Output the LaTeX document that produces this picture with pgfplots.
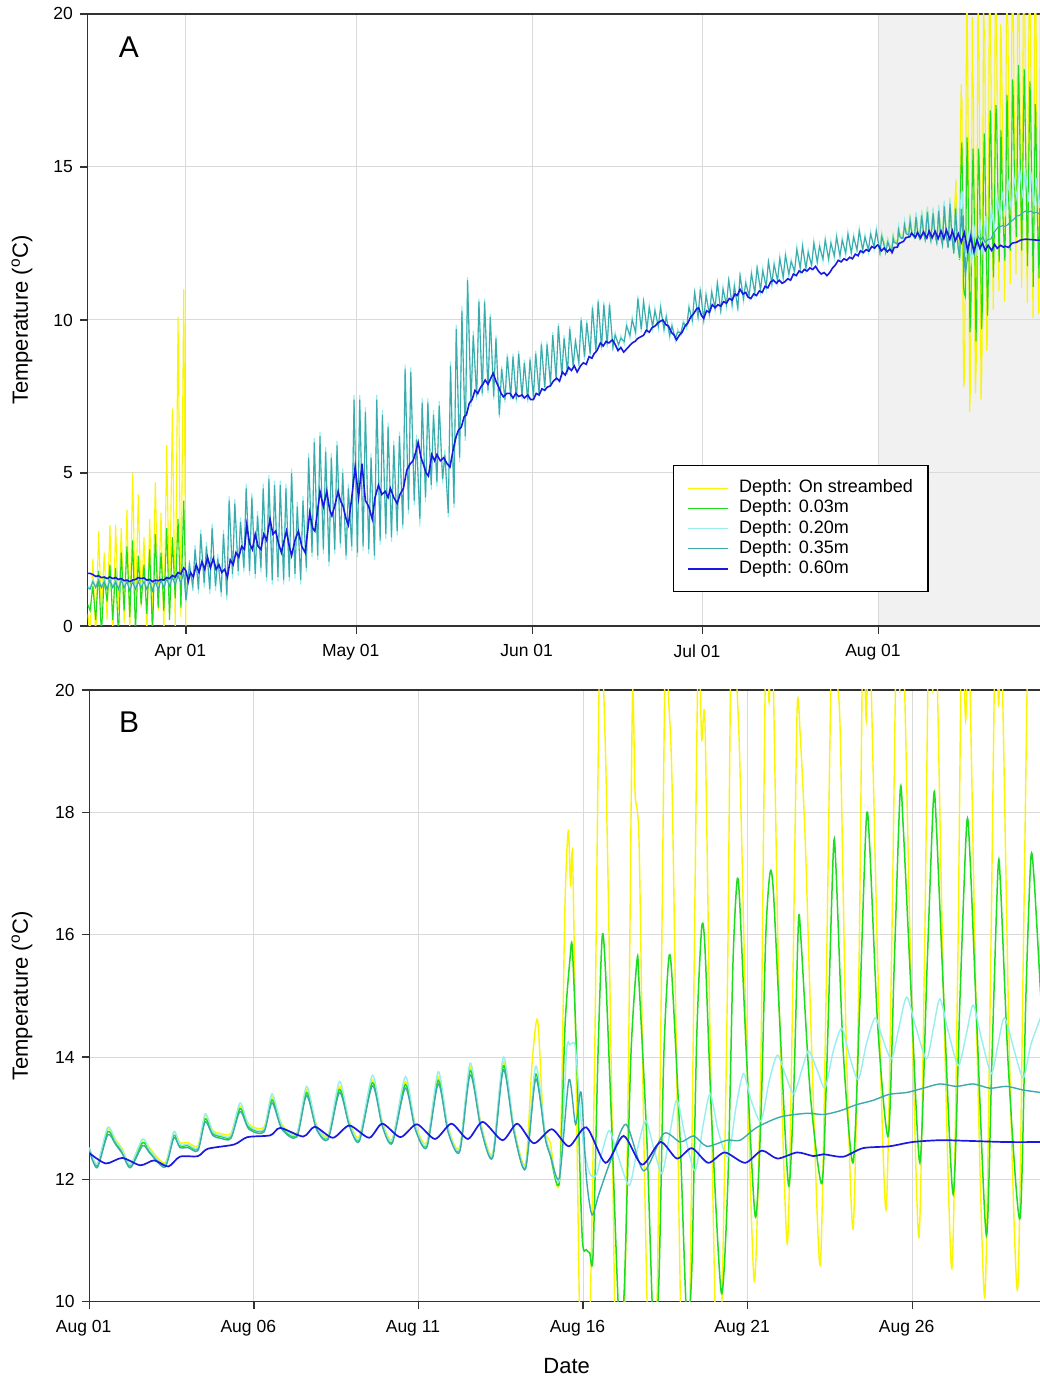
\documentclass[border=0pt]{standalone}
\usepackage{pgfplots}
\usepackage{pgfplotstable}
\pgfplotsset{compat=1.18}
\usepackage{fontspec}
\setmainfont{Liberation Sans}
\definecolor{cY}{RGB}{250,245,0}
\definecolor{cG}{RGB}{30,220,30}
\definecolor{cC}{RGB}{150,238,238}
\definecolor{cT}{RGB}{60,170,170}
\definecolor{cB}{RGB}{25,25,225}
\definecolor{shade}{RGB}{241,241,241}
\definecolor{gridc}{RGB}{218,218,218}
\definecolor{axc}{RGB}{50,50,50}

% March (panel A): day-of-year, yellow, green, cyan, teal, blue
\pgfplotstableread{
d y g c t b
73.7 0.4 0.7 1.3 1.25 1.72
74.1 -0.3 0.5 1.25 1.2 1.72
74.6 2.2 1.3 1.5 1.45 1.68
75.1 -0.5 0.2 1.3 1.25 1.62
75.6 3.1 1.8 1.55 1.5 1.64
76.1 0.4 -0.3 1.3 1.25 1.58
76.6 2.4 1.6 1.5 1.45 1.6
77.1 0.2 0.8 1.25 1.2 1.55
77.6 3.3 2.0 1.55 1.5 1.6
78.1 -0.5 0.2 1.3 1.25 1.55
78.6 3.3 1.9 1.5 1.45 1.58
79.1 0.5 -0.4 1.25 1.2 1.52
79.6 3.2 2.4 1.55 1.5 1.55
80.1 0.1 0.5 1.3 1.25 1.48
80.6 3.8 2.6 1.5 1.45 1.5
81.1 -0.2 0.3 1.2 1.15 1.45
81.6 5.0 2.8 1.5 1.45 1.5
82.1 0.3 -0.2 1.25 1.2 1.52
82.6 4.3 2.3 1.5 1.45 1.58
83.1 0.6 0.7 1.3 1.25 1.55
83.6 2.9 2.0 1.5 1.45 1.57
84.1 -0.4 0.4 1.25 1.2 1.5
84.6 3.5 2.5 1.5 1.45 1.52
85.1 0.2 -0.3 1.2 1.15 1.45
85.6 4.7 3.0 1.5 1.45 1.5
86.1 0.5 0.6 1.25 1.2 1.48
86.6 3.7 2.4 1.55 1.5 1.52
87.1 -0.3 0.5 1.3 1.25 1.5
87.6 5.9 3.2 1.6 1.55 1.58
88.1 0.4 0.2 1.35 1.3 1.55
88.6 7.1 2.9 1.65 1.6 1.65
89.1 0.0 0.9 1.4 1.35 1.6
89.6 10.1 3.5 1.7 1.65 1.75
90.1 0.3 0.6 1.45 1.4 1.7
90.6 11.0 4.1 1.8 1.75 1.9
91.0 -0.5 1.0 0.8 0.85 1.8
}\marTab

% April - July (panel A): day, teal (0.35 m), cyan (0.20 m)
\pgfplotstableread{
d t c
91.0 0.85 0.8
91.2 1.2 1.05
91.6 2.0 2.15
92.2 1.3 1.15
92.6 2.5 2.65
93.2 1.2 1.05
93.6 3.0 3.15
94.2 1.4 1.25
94.6 2.6 2.75
95.2 1.2 1.05
95.6 3.2 3.35
96.2 1.3 1.15
96.6 2.2 2.35
97.2 1.1 0.95
97.6 3.0 3.15
98.2 1.0 0.85
98.6 4.1 4.25
99.2 1.7 1.55
99.6 4.0 4.15
100.2 1.8 1.65
100.6 3.4 3.55
101.2 1.9 1.75
101.6 4.5 4.65
102.2 1.8 1.65
102.6 4.2 4.35
103.2 1.7 1.55
103.6 3.6 3.75
104.2 1.9 1.75
104.6 4.5 4.65
105.2 1.6 1.45
105.6 4.8 4.95
106.2 1.5 1.35
106.6 4.6 4.75
107.2 1.6 1.45
107.6 4.6 4.75
108.2 1.5 1.35
108.6 4.5 4.65
109.2 1.6 1.45
109.6 5.0 5.15
110.2 1.7 1.55
110.6 3.9 4.05
111.2 1.5 1.35
111.6 4.1 4.25
112.2 1.9 1.75
112.6 5.5 5.65
113.2 2.4 2.25
113.6 6.0 6.15
114.2 2.3 2.15
114.6 6.2 6.35
115.2 2.5 2.35
115.6 5.7 5.85
116.2 2.1 1.95
116.6 5.5 5.65
117.2 2.5 2.35
117.6 5.9 6.05
118.2 2.7 2.55
118.6 5.0 5.15
119.2 2.3 2.15
119.6 4.5 4.65
120.2 2.6 2.45
120.6 7.4 7.55
121.2 2.4 2.25
121.6 7.4 7.55
122.2 2.6 2.45
122.6 7.0 7.15
123.2 2.5 2.35
123.6 5.5 5.65
124.2 2.3 2.15
124.6 7.4 7.55
125.2 2.8 2.65
125.6 6.9 7.05
126.2 3.0 2.85
126.6 6.5 6.65
127.2 2.9 2.75
127.6 5.9 6.05
128.2 3.1 2.95
128.6 6.2 6.35
129.2 3.3 3.15
129.6 8.4 8.55
130.2 3.8 3.65
130.6 8.3 8.45
131.2 4.1 3.95
131.6 6.1 6.25
132.2 3.5 3.25
132.6 7.3 7.45
133.2 4.2 4.05
133.6 7.3 7.45
134.2 4.6 4.45
134.6 6.9 7.05
135.2 4.7 4.55
135.6 7.2 7.35
136.2 4.8 4.65
136.6 5.6 5.75
137.2 3.7 3.55
137.6 8.5 8.65
138.2 4.0 3.85
138.6 9.7 9.85
139.2 5.5 5.35
139.6 10.3 10.45
140.2 6.2 6.05
140.6 11.3 11.4
141.2 7.3 7.15
141.6 9.5 9.65
142.2 7.5 7.4
142.6 10.6 10.7
143.2 7.6 7.5
143.6 10.6 10.7
144.2 7.7 7.6
144.6 10.1 10.2
145.2 7.5 7.4
145.6 9.4 9.5
146.2 6.9 6.8
146.6 8.4 8.5
147.2 7.4 7.3
147.6 8.8 8.9
148.2 7.5 7.4
148.6 8.8 8.9
149.2 7.4 7.3
149.6 8.9 9.0
150.2 7.5 7.4
150.6 8.6 8.7
151.2 7.4 7.3
151.6 8.7 8.8
152.2 7.5 7.4
152.6 8.9 9.0
153.2 7.6 7.5
153.6 9.2 9.3
154.2 7.8 7.7
154.6 9.2 9.3
155.2 7.9 7.8
155.6 9.5 9.6
156.2 8.1 8.0
156.6 9.8 9.9
157.2 8.2 8.1
157.6 9.4 9.5
158.2 8.3 8.2
158.6 9.7 9.8
159.2 8.5 8.4
159.6 9.3 9.4
160.2 8.6 8.5
160.6 10.0 10.1
161.2 8.8 8.7
161.6 9.9 10.0
162.2 8.9 8.8
162.6 10.4 10.5
163.2 9.0 8.9
163.6 10.6 10.7
164.2 9.1 9.0
164.6 10.5 10.6
165.2 9.2 9.1
165.6 10.5 10.6
166.2 9.1 9.0
166.6 9.5 9.6
167.2 9.2 9.1
167.6 9.4 9.5
168.2 9.3 9.2
168.6 9.8 9.9
169.2 9.5 9.4
169.6 10.0 10.1
170.2 9.6 9.5
170.6 10.7 10.8
171.2 9.7 9.6
171.6 10.6 10.7
172.2 9.7 9.6
172.6 10.4 10.5
173.2 9.8 9.7
173.6 10.3 10.4
174.2 9.8 9.7
174.6 10.4 10.5
175.2 9.7 9.6
175.6 10.1 10.2
176.2 9.5 9.4
176.6 9.8 9.9
177.2 9.4 9.3
177.6 9.6 9.7
178.2 9.6 9.5
178.6 9.9 10.0
179.2 9.8 9.7
179.6 10.4 10.5
180.2 10.0 9.9
180.6 10.9 11.0
181.2 10.1 10.0
181.6 11.0 11.1
182.2 10.0 9.9
182.6 10.8 10.9
183.2 10.2 10.1
183.6 10.9 11.0
184.2 10.4 10.3
184.6 11.2 11.3
185.2 10.3 10.2
185.6 11.0 11.1
186.2 10.5 10.4
186.6 11.3 11.4
187.2 10.5 10.4
187.6 11.1 11.2
188.2 10.4 10.3
188.6 11.45 11.55
189.2 10.7 10.6
189.6 11.2 11.3
190.2 10.8 10.7
190.6 11.5 11.6
191.2 10.9 10.8
191.6 11.7 11.8
192.2 11.0 10.9
192.6 11.6 11.7
193.2 11.1 11.0
193.6 11.9 12.0
194.2 11.2 11.1
194.6 11.8 11.9
195.2 11.3 11.2
195.6 12.0 12.1
196.2 11.4 11.3
196.6 12.1 12.2
197.2 11.5 11.4
197.6 11.9 12.0
198.2 11.6 11.5
198.6 12.3 12.4
199.2 11.7 11.6
199.6 12.4 12.5
200.2 11.7 11.6
200.6 12.2 12.3
201.2 11.8 11.7
201.6 12.5 12.6
202.2 11.9 11.8
202.6 12.4 12.5
203.2 12.0 11.9
203.6 12.6 12.7
204.2 12.0 11.9
204.6 12.5 12.6
205.2 12.1 12.0
205.6 12.7 12.8
206.2 12.1 12.0
206.6 12.6 12.7
207.2 12.2 12.1
207.6 12.8 12.9
208.2 12.2 12.1
208.6 12.7 12.8
209.2 12.3 12.2
209.6 12.9 13.0
210.2 12.3 12.2
210.6 12.7 12.8
211.2 12.3 12.2
211.6 12.8 12.9
212.2 12.4 12.3
212.6 12.9 13.0
213.0 12.48 12.52
}\aprTab

% April - July blue (0.60 m)
\pgfplotstableread{
d b
91.0 1.8
91.4 1.45
91.8 1.75
92.3 1.6
92.8 2.0
93.3 1.75
93.8 2.1
94.3 1.85
94.8 2.25
95.3 1.9
95.8 2.2
96.3 1.85
96.8 2.0
97.3 1.75
97.8 1.85
98.3 1.6
98.8 2.16
99.3 2.0
99.8 2.4
100.3 2.25
100.8 2.6
101.3 2.5
101.7 3.3
102.2 2.7
102.7 2.5
103.2 3.0
103.7 2.6
104.2 2.5
104.7 3.0
105.2 2.8
105.8 3.5
106.3 3.0
106.8 3.1
107.3 2.7
107.8 2.4
108.3 2.8
108.7 3.1
109.2 2.6
109.6 2.3
110.2 2.8
110.8 3.1
111.4 2.6
112.0 2.4
112.8 3.7
113.3 3.2
113.7 3.1
114.2 3.8
114.6 4.4
115.2 3.9
115.8 4.4
116.3 3.8
116.7 3.6
117.3 4.0
117.8 4.4
118.2 4.1
118.7 3.9
119.2 3.5
119.6 3.3
120.2 4.2
120.8 5.2
121.4 4.2
122.0 5.3
122.6 4.1
123.2 3.9
123.8 3.5
124.3 4.2
124.9 4.6
125.5 4.3
126.1 4.4
126.6 4.2
127.0 4.5
127.6 4.2
128.2 4.0
128.7 4.3
129.3 4.5
129.9 5.1
130.5 5.3
131.0 5.4
131.5 5.7
131.9 6.0
132.4 5.5
132.8 5.3
133.3 5.0
133.7 4.9
134.3 5.6
134.8 5.4
135.2 5.6
135.8 5.4
136.4 5.5
137.0 5.3
137.5 5.2
138.1 5.8
138.6 6.2
139.0 6.4
139.5 6.5
140.0 6.84
140.4 6.9
140.9 7.28
141.4 7.4
141.9 7.7
142.4 7.6
142.9 7.8
143.3 7.9
143.7 8.04
144.2 7.9
144.7 8.1
145.1 8.26
145.6 8.0
146.1 7.8
146.5 7.6
146.9 7.49
147.5 7.6
148.1 7.6
148.6 7.45
149.1 7.6
149.6 7.5
150.2 7.55
150.6 7.45
151.2 7.55
151.7 7.4
152.2 7.4
152.7 7.6
153.2 7.55
153.7 7.75
154.2 7.7
154.6 7.8
155.2 7.85
155.7 8.0
156.3 8.1
156.8 8.0
157.3 8.3
157.8 8.2
158.4 8.45
158.9 8.35
159.4 8.5
159.9 8.3
160.5 8.5
161.0 8.6
161.5 8.55
162.0 8.8
162.5 8.75
162.9 8.9
163.4 9.0
164.0 9.25
164.5 9.15
165.0 9.3
165.5 9.25
166.1 9.35
166.6 9.2
167.1 9.0
167.6 9.1
168.1 8.95
168.6 9.05
169.1 9.15
169.6 9.25
170.1 9.3
170.6 9.4
171.1 9.45
171.6 9.5
172.1 9.67
172.6 9.6
173.1 9.75
173.6 9.8
174.1 9.9
174.5 9.95
175.0 10.0
175.5 9.85
176.0 9.8
176.5 9.6
177.0 9.5
177.4 9.35
177.9 9.5
178.4 9.6
178.9 9.8
179.4 9.9
179.9 10.1
180.4 10.2
180.9 10.35
181.3 10.4
181.8 10.15
182.2 10.05
182.7 10.3
183.2 10.25
183.7 10.5
184.2 10.4
184.7 10.5
185.2 10.45
185.7 10.6
186.2 10.55
186.7 10.7
187.2 10.65
187.7 10.85
188.1 10.8
188.6 11.0
189.1 10.85
189.6 10.9
190.0 10.75
190.5 10.7
191.0 10.85
191.5 10.8
192.0 10.95
192.5 10.9
193.0 11.1
193.5 11.05
194.0 11.25
194.5 11.3
195.0 11.2
195.5 11.3
196.0 11.2
196.5 11.25
197.0 11.35
197.5 11.3
198.0 11.5
198.5 11.45
199.0 11.6
199.5 11.55
199.9 11.65
200.4 11.6
200.9 11.7
201.4 11.65
201.9 11.75
202.4 11.6
202.9 11.5
203.4 11.55
203.9 11.45
204.4 11.55
204.9 11.7
205.4 11.8
205.9 11.95
206.4 11.9
206.9 12.0
207.4 11.95
207.9 12.05
208.4 12.0
208.9 12.15
209.4 12.1
209.8 12.26
210.3 12.2
210.8 12.3
211.3 12.25
211.8 12.4
212.3 12.35
212.8 12.45
213.0 12.43
}\blueApr

% August (both panels): yellow, on streambed
\pgfplotstableread{
d v
213.0 12.52
213.24 12.25
213.56 12.82
213.8 12.65
214.0 12.5
214.25 12.25
214.62 12.65
214.85 12.5
215.3 12.27
215.57 12.77
215.75 12.6
216.0 12.6
216.3 12.55
216.52 13.05
216.75 12.8
217.0 12.75
217.3 12.75
217.58 13.2
217.85 12.9
218.3 12.85
218.55 13.35
218.85 12.9
219.3 12.75
219.6 13.47
219.9 12.9
220.25 12.72
220.6 13.52
220.9 12.95
221.2 12.7
221.6 13.63
221.9 12.95
222.2 12.66
222.6 13.6
222.9 12.9
223.25 12.6
223.6 13.68
223.9 12.85
224.25 12.52
224.57 13.84
224.9 12.9
225.25 12.42
225.58 13.92
225.9 12.85
226.25 12.25
226.45 13.9
226.62 14.6
226.8 12.9
227.0 12.6
227.28 12.0
227.45 16.5
227.55 17.7
227.62 16.8
227.68 17.3
227.78 14.0
227.9 9.5
228.0 7.8
228.15 8.2
228.35 14.0
228.5 20.6
228.6 20.3
228.7 18.5
228.85 14.0
229.05 7.0
229.2 8.0
229.38 14.0
229.5 19.9
229.58 18.3
229.7 17.5
229.85 12.5
230.05 7.6
230.2 8.6
230.35 14.0
230.5 20.8
230.6 19.8
230.7 18.5
230.85 13.5
231.05 7.4
231.2 8.5
231.35 14.5
231.5 20.8
231.6 19.2
231.7 19.5
231.85 14.5
232.05 9.0
232.2 9.6
232.38 15.0
232.5 21.0
232.62 20.5
232.75 19.0
232.95 14.5
233.2 10.34
233.4 14.0
233.55 20.8
233.65 19.8
233.75 20.8
233.95 15.0
234.2 10.95
234.35 14.5
234.5 19.66
234.6 19.2
234.75 17.5
234.95 14.0
235.2 10.6
235.38 15.0
235.55 20.8
235.65 20.2
235.8 19.5
235.98 14.5
236.2 11.19
236.38 15.5
236.5 21.0
236.6 19.5
236.7 21.0
236.95 15.5
237.2 11.5
237.38 16.0
237.52 21.0
237.62 20.0
237.72 21.0
237.95 15.5
238.2 11.05
238.38 16.0
238.5 21.0
238.62 20.0
238.72 21.0
238.95 15.0
239.2 10.54
239.38 15.5
239.5 21.0
239.62 19.5
239.72 20.8
239.95 14.5
240.2 10.07
240.38 15.5
240.52 21.0
240.62 19.76
240.72 20.5
240.95 14.0
241.2 10.2
241.38 16.0
241.52 21.0
241.65 20.8
241.9 21.0
}\yelAug

% August green, 0.03 m
\pgfplotstableread{
d v
213.0 12.5
213.24 12.22
213.56 12.78
213.8 12.6
214.0 12.45
214.25 12.22
214.62 12.6
214.85 12.45
215.3 12.23
215.57 12.72
215.75 12.55
216.0 12.55
216.3 12.5
216.52 12.99
216.75 12.75
217.0 12.7
217.3 12.7
217.58 13.16
217.85 12.85
218.3 12.8
218.55 13.3
218.85 12.85
219.3 12.72
219.6 13.42
219.9 12.85
220.25 12.68
220.6 13.47
220.9 12.9
221.2 12.65
221.6 13.58
221.9 12.9
222.2 12.62
222.6 13.55
222.9 12.85
223.25 12.55
223.6 13.62
223.9 12.8
224.25 12.48
224.57 13.78
224.9 12.85
225.25 12.38
225.58 13.86
225.9 12.8
226.25 12.2
226.56 13.72
226.85 12.7
227.0 12.4
227.28 11.96
227.45 14.5
227.6 15.6
227.67 15.8
227.8 14.07
227.97 11.08
228.1 10.85
228.2 10.8
228.3 10.75
228.45 14.0
228.58 15.97
228.68 15.4
228.88 12.7
229.1 9.6
229.25 10.2
229.45 14.0
229.64 15.6
229.7 15.2
229.94 12.6
230.15 9.3
230.3 10.3
230.45 14.0
230.6 15.6
230.7 15.3
230.95 12.6
231.15 9.7
231.3 10.5
231.45 14.3
231.6 16.1
231.7 15.8
231.9 13.05
232.2 10.14
232.4 12.0
232.55 15.5
232.67 16.85
232.75 16.6
232.97 13.93
233.23 11.39
233.4 13.0
233.55 16.0
233.68 17.02
233.78 16.7
233.98 14.5
234.24 11.9
234.4 13.5
234.54 16.2
234.62 15.9
234.9 13.4
235.25 11.93
235.4 13.8
235.6 17.36
235.68 17.1
235.9 14.1
236.2 12.27
236.4 14.8
236.6 17.86
236.7 17.5
236.95 14.5
237.27 12.71
237.45 15.5
237.63 18.34
237.72 17.8
237.95 15.2
238.23 12.27
238.45 15.5
238.64 18.2
238.72 17.9
238.95 15.0
239.24 11.76
239.45 15.0
239.65 17.8
239.75 17.3
239.97 14.4
240.25 11.08
240.42 14.0
240.6 17.05
240.68 16.8
240.92 13.8
241.27 11.36
241.45 15.0
241.6 17.25
241.7 16.9
241.9 15.0
}\grnAug

% August cyan, 0.20 m
\pgfplotstableread{
d v
213.0 12.52
213.24 12.25
213.56 12.85
213.8 12.63
214.0 12.48
214.25 12.24
214.62 12.66
214.85 12.47
215.3 12.25
215.57 12.78
215.75 12.57
216.0 12.57
216.3 12.52
216.52 13.07
216.75 12.78
217.0 12.72
217.3 12.72
217.58 13.25
217.85 12.88
218.3 12.82
218.55 13.4
218.85 12.88
219.3 12.74
219.6 13.52
219.9 12.88
220.25 12.7
220.6 13.6
220.9 12.93
221.2 12.67
221.6 13.7
221.9 12.93
222.2 12.64
222.6 13.68
222.9 12.88
223.25 12.57
223.6 13.76
223.9 12.83
224.25 12.5
224.57 13.9
224.9 12.88
225.25 12.4
225.58 14.0
225.9 12.83
226.25 12.22
226.56 13.85
226.85 12.75
227.0 12.45
227.28 12.0
227.5 14.1
227.6 14.2
227.75 14.2
227.85 13.6
228.0 12.6
228.2 12.1
228.4 12.07
228.6 12.5
228.8 12.8
229.05 12.4
229.4 11.9
229.65 12.5
229.9 12.96
230.15 12.5
230.4 12.1
230.65 12.8
230.85 13.3
231.1 12.7
231.4 12.14
231.65 12.9
231.86 13.4
232.1 12.8
232.4 12.37
232.65 13.2
232.87 13.73
233.1 13.3
233.4 12.95
233.65 13.6
233.9 14.03
234.15 13.7
234.4 13.4
234.65 13.8
234.85 14.1
235.1 13.8
235.35 13.5
235.6 14.1
235.86 14.47
236.1 14.0
236.36 13.63
236.6 14.2
236.87 14.64
237.1 14.3
237.37 13.97
237.6 14.5
237.83 14.98
238.1 14.5
238.43 13.97
238.65 14.5
238.84 14.95
239.1 14.4
239.4 13.86
239.65 14.4
239.85 14.85
240.1 14.3
240.4 13.73
240.6 14.2
240.8 14.64
241.1 14.1
241.37 13.66
241.6 14.2
241.9 14.65
}\cyaAug

% August teal, 0.35 m
\pgfplotstableread{
d v
213.0 12.47
213.24 12.19
213.56 12.73
213.8 12.57
214.0 12.42
214.25 12.19
214.62 12.55
214.85 12.42
215.3 12.2
215.57 12.68
215.75 12.52
216.0 12.52
216.3 12.47
216.52 12.94
216.75 12.72
217.0 12.67
217.3 12.67
217.58 13.11
217.85 12.82
218.3 12.77
218.55 13.25
218.85 12.82
219.3 12.69
219.6 13.37
219.9 12.82
220.25 12.65
220.6 13.42
220.9 12.87
221.2 12.62
221.6 13.53
221.9 12.87
222.2 12.59
222.6 13.49
222.9 12.82
223.25 12.52
223.6 13.56
223.9 12.77
224.25 12.45
224.57 13.71
224.9 12.82
225.25 12.35
225.58 13.79
225.9 12.77
226.25 12.17
226.56 13.64
226.85 12.67
227.0 12.4
227.28 12.03
227.57 13.63
227.77 12.9
227.94 13.42
228.1 12.03
228.27 11.42
228.48 11.76
228.83 12.3
229.3 12.9
229.84 12.14
230.45 12.75
230.95 12.61
231.36 12.71
231.76 12.54
232.37 12.64
232.77 12.64
233.28 12.85
233.99 13.02
234.8 13.08
235.3 13.06
235.8 13.12
236.3 13.22
236.8 13.29
237.3 13.39
237.83 13.42
238.33 13.49
238.84 13.56
239.34 13.52
239.85 13.56
240.36 13.49
240.86 13.52
241.37 13.46
241.9 13.42
}\tealAug

% August blue, 0.60 m
\pgfplotstableread{
d v
213.0 12.43
213.5 12.26
214.0 12.35
214.55 12.23
214.97 12.31
215.4 12.21
215.75 12.37
216.3 12.38
216.6 12.5
217.4 12.57
217.8 12.69
218.5 12.72
218.8 12.84
219.5 12.7
219.85 12.86
220.4 12.68
220.9 12.88
221.5 12.68
221.9 12.91
222.45 12.69
222.95 12.9
223.5 12.66
224.0 12.91
224.5 12.66
224.95 12.94
225.55 12.64
226.0 12.91
226.5 12.59
227.05 12.82
227.57 12.54
228.1 12.85
228.68 12.27
229.23 12.71
229.79 12.24
230.35 12.61
230.85 12.34
231.3 12.51
231.8 12.27
232.3 12.44
232.92 12.27
233.43 12.47
233.9 12.34
234.5 12.44
235.0 12.38
235.3 12.41
235.9 12.37
236.5 12.51
237.3 12.54
238.0 12.61
238.84 12.64
239.65 12.63
240.86 12.61
241.9 12.61
}\bluAug

\pgfplotsset{
  tempaxis/.style={
    scale only axis, anchor=south west, set layers,
    axis line style={axc, line width=0.65pt},
    every tick/.style={axc, line width=0.65pt},
    tick align=outside, major tick length=3.8pt, tick pos=left,
    grid=major, major grid style={gridc, line width=0.5pt},
    ticklabel style={font=\fontsize{8.75}{10}\selectfont},
    /pgf/number format/assume math mode=true,
    xticklabel style={xshift=-2.8pt, yshift=-2pt},
    enlargelimits=false, clip=true,
    ylabel={Temperature (\textsuperscript{o}C)},
  },
  lY/.style={cY, line width=0.55pt},
  lG/.style={cG, line width=0.55pt},
  lC/.style={cC, line width=0.55pt},
  lT/.style={cT, line width=0.55pt},
  lB/.style={cB, line width=0.8pt},
}

\begin{document}
\begin{tikzpicture}
% ---------------- Panel A ----------------
\begin{axis}[tempaxis,
  at={(43.75pt,376.5pt)}, width=477.85pt, height=306pt,
  xmin=73.65, xmax=242, ymin=0, ymax=20,
  xtick={91,121,152,182,213},
  xticklabels={Apr 01,May 01,Jun 01,Jul 01,Aug 01},
  ytick={0,5,10,15,20},
  ylabel style={font=\fontsize{11}{13}\selectfont, at={(axis description cs:-0.0685,0.5)}, anchor=center},
  legend style={at={(axis description cs:0.6126,0.2631)}, anchor=north west,
    draw=black, line width=0.6pt, fill=white,
    font=\fontsize{9}{10}\selectfont,
    inner xsep=7pt, inner ysep=6.5pt, row sep=0.6pt, column sep=4.5pt,
    nodes={inner sep=0.5pt, text height=6.6pt, text depth=1.9pt}},
  legend cell align=left,
  legend image code/.code={\draw[#1] (0pt,0pt) -- (20pt,0pt);},
]
\addplot[fill=shade, draw=none, on layer=axis background, forget plot]
  coordinates {(213,0) (242,0) (242,20) (213,20)} -- cycle;
\addplot[lY] table[x=d, y=y] {\marTab};
\addlegendentry{Depth: On streambed}
\addplot[lY, forget plot] table[x=d, y=v] {\yelAug};
\addplot[lG] table[x=d, y=g] {\marTab};
\addlegendentry{Depth: 0.03m}
\addplot[lG, forget plot] table[x=d, y=v] {\grnAug};
\addplot[lC] table[x=d, y=c] {\marTab};
\addlegendentry{Depth: 0.20m}
\addplot[lC, forget plot] table[x=d, y=c] {\aprTab};
\addplot[lC, forget plot] table[x=d, y=v] {\cyaAug};
\addplot[lT] table[x=d, y=t] {\marTab};
\addlegendentry{Depth: 0.35m}
\addplot[lT, forget plot] table[x=d, y=t] {\aprTab};
\addplot[lT, forget plot] table[x=d, y=v] {\tealAug};
\addplot[lB] table[x=d, y=b] {\marTab};
\addlegendentry{Depth: 0.60m}
\addplot[lB, forget plot] table[x=d, y=b] {\blueApr};
\addplot[lB, forget plot] table[x=d, y=v] {\bluAug};
\node[font=\fontsize{15}{17}\selectfont] at (axis description cs:0.0434,0.946) {A};
\end{axis}
% ---------------- Panel B ----------------
\begin{axis}[tempaxis,
  at={(44.65pt,38.65pt)}, width=477.35pt, height=305.85pt,
  xmin=213, xmax=242, ymin=10, ymax=20,
  xtick={213,218,223,228,233,238},
  xticklabels={Aug 01,Aug 06,Aug 11,Aug 16,Aug 21,Aug 26},
  ytick={10,12,14,16,18,20},
  ylabel style={font=\fontsize{11}{13}\selectfont, at={(axis description cs:-0.0705,0.5)}, anchor=center},
  xlabel={Date},
  xlabel style={font=\fontsize{11}{13}\selectfont, at={(axis description cs:0.5,-0.105)}, anchor=center},
  every axis plot/.append style={smooth, tension=0.45},
]
\addplot[lY, line width=0.7pt] table[x=d, y=v] {\yelAug};
\addplot[lG, line width=0.75pt] table[x=d, y=v] {\grnAug};
\addplot[lC, line width=0.7pt] table[x=d, y=v] {\cyaAug};
\addplot[lT, line width=0.7pt] table[x=d, y=v] {\tealAug};
\addplot[lB, line width=0.85pt] table[x=d, y=v] {\bluAug};
\node[font=\fontsize{15}{17}\selectfont] at (axis description cs:0.0416,0.9477) {B};
\end{axis}
\pgfresetboundingbox
\useasboundingbox (0,0) rectangle (519.5pt,689.5pt);
\end{tikzpicture}
\end{document}
